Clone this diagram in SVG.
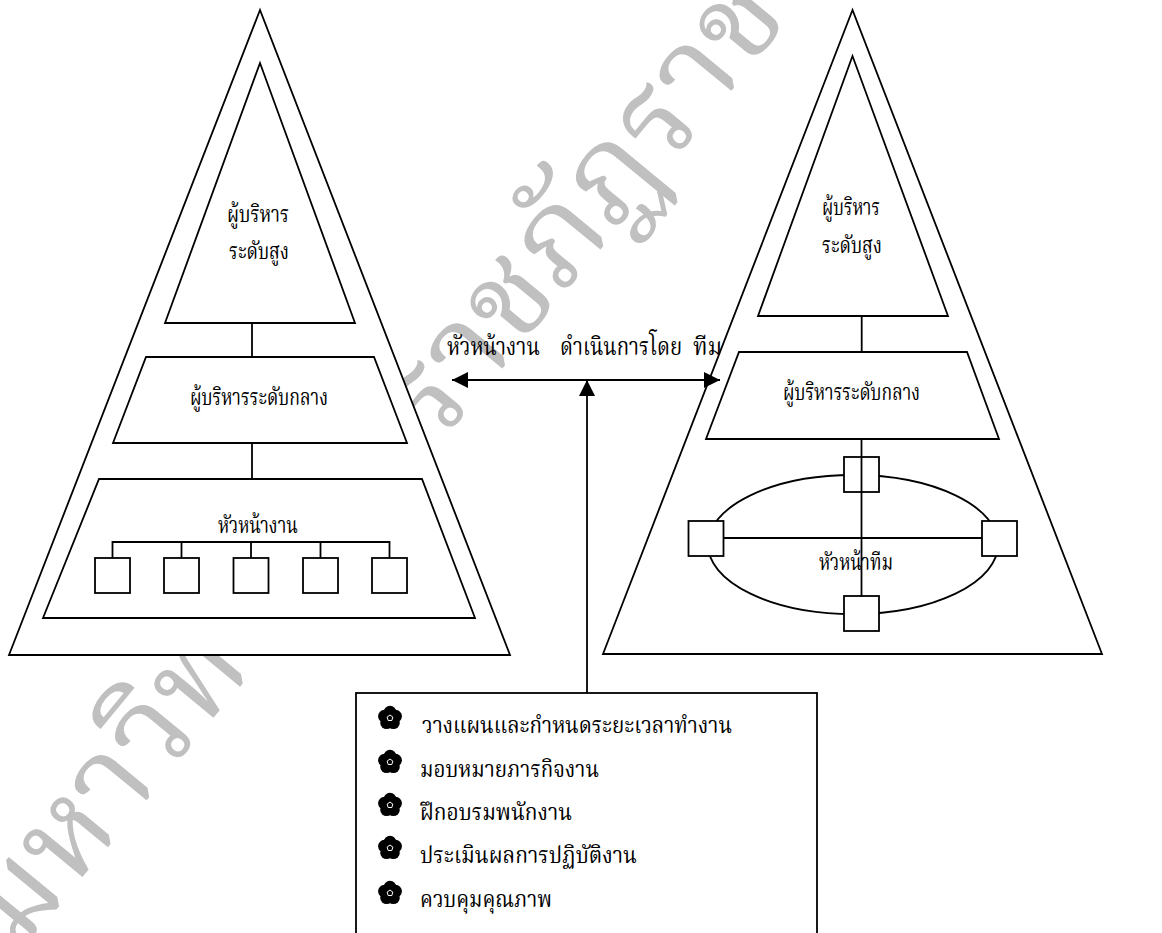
<svg xmlns="http://www.w3.org/2000/svg" width="1162" height="933" viewBox="0 0 1162 933">
<style>
.s{fill:#fff;stroke:#000;stroke-width:1.8}
.l{fill:none;stroke:#000;stroke-width:1.8}
.t{font-family:"Liberation Serif","Noto Serif Thai","Noto Sans Thai",serif;font-size:23px;fill:#000}
.f{font-size:25px}
.wm{font-family:"Liberation Serif","Noto Serif Thai","Noto Sans Thai",serif;font-size:126px;fill:#c0c0c0}
</style>
<defs>
<marker id="ah" viewBox="0 0 16 16" refX="16" refY="8" markerWidth="16" markerHeight="16" markerUnits="userSpaceOnUse" orient="auto">
<path d="M0,0 L16,8 L0,16 Z" fill="#000"/>
</marker>
<g id="flower">
<circle cx="0" cy="-5.8" r="6.4"/>
<circle cx="5.5" cy="-1.8" r="6.4"/>
<circle cx="3.4" cy="4.7" r="6.4"/>
<circle cx="-3.4" cy="4.7" r="6.4"/>
<circle cx="-5.5" cy="-1.8" r="6.4"/>
<circle r="7"/>
<path d="M0,-3 L2.9,-0.9 L1.8,2.5 L-1.8,2.5 L-2.9,-0.9 Z" fill="none" stroke="#fff" stroke-width="1"/>
</g>
</defs>
<rect width="1162" height="933" fill="#fff"/>
<text class="wm" transform="translate(18,955) rotate(-50.5)">มหาวิทยาลัยราชภัฏราช</text>

<g id="left-pyramid">
<polygon class="s" points="260,10 9,655 510,655"/>
<g id="left-top"><polygon class="s" points="260,63 165,323 355,323"/>
<text class="t" x="227" y="222" textLength="62" lengthAdjust="spacingAndGlyphs">ผู้บริหาร</text>
<text class="t" x="229" y="259" textLength="60" lengthAdjust="spacingAndGlyphs">ระดับสูง</text></g>
<g id="left-middle"><polygon class="s" points="146,357 374,357 407,443 113,443"/>
<text class="t" x="190" y="405" textLength="138" lengthAdjust="spacingAndGlyphs">ผู้บริหารระดับกลาง</text></g>
<g id="left-bottom"><polygon class="s" points="99,479 422,479 475,618 43,618"/>
<text class="t" x="218" y="533" textLength="80" lengthAdjust="spacingAndGlyphs">หัวหน้างาน</text>
<path class="l" d="M112.5,558 V542 H389.5 V558 M181.5,542 V558 M251,542 V558 M320.5,542 V558"/>
<rect class="s" x="95" y="558" width="35" height="35"/>
<rect class="s" x="164" y="558" width="35" height="35"/>
<rect class="s" x="233.5" y="558" width="35" height="35"/>
<rect class="s" x="303" y="558" width="35" height="35"/>
<rect class="s" x="372" y="558" width="35" height="35"/></g>
<path class="l" d="M252,323 V357 M252,443 V479"/>
</g>

<g id="right-pyramid">
<polygon class="s" points="852.5,10 603,654 1102,654"/>
<g id="right-top"><polygon class="s" points="852.5,56 758,316 948,316"/>
<text class="t" x="822" y="215" textLength="58" lengthAdjust="spacingAndGlyphs">ผู้บริหาร</text>
<text class="t" x="822" y="253" textLength="60" lengthAdjust="spacingAndGlyphs">ระดับสูง</text></g>
<g id="right-middle"><polygon class="s" points="739,352 967,352 999,439 706,439"/>
<text class="t" x="783" y="400" textLength="137" lengthAdjust="spacingAndGlyphs">ผู้บริหารระดับกลาง</text></g>
<path class="l" d="M861.7,316 V352"/>
<g id="right-team">
<ellipse class="l" cx="853" cy="544.5" rx="145" ry="69.5"/>
<text class="t" x="819" y="570" textLength="74" lengthAdjust="spacingAndGlyphs">หัวหน้าทีม</text>
<path class="l" d="M706,538 H1000"/>
<rect class="s" x="844" y="457" width="35" height="35"/>
<rect class="s" x="688.5" y="521" width="35" height="35"/>
<rect class="s" x="982" y="521" width="35" height="35"/>
<rect class="s" x="844" y="596" width="35" height="35"/>
<path class="l" d="M861.5,439 V597"/></g>
</g>

<g id="connectors">
<line class="l" x1="587" y1="380" x2="452" y2="380" marker-end="url(#ah)"/>
<line class="l" x1="587" y1="380" x2="720" y2="380" marker-end="url(#ah)"/>
<line class="l" x1="587" y1="693" x2="587" y2="380" marker-end="url(#ah)"/>
</g>
<text id="flow-label" class="t f" y="355"><tspan x="447" textLength="93" lengthAdjust="spacingAndGlyphs">หัวหน้างาน</tspan><tspan x="560" textLength="122" lengthAdjust="spacingAndGlyphs">ดำเนินการโดย</tspan><tspan x="693" textLength="29" lengthAdjust="spacingAndGlyphs">ทีม</tspan></text>

<g id="tasks">
<rect class="s" x="356" y="693" width="461" height="260"/>
<use href="#flower" x="390" y="718"/>
<use href="#flower" x="390" y="762"/>
<use href="#flower" x="390" y="805"/>
<use href="#flower" x="390" y="848"/>
<use href="#flower" x="390" y="893"/>
<text class="t" x="422" y="733" textLength="310" lengthAdjust="spacingAndGlyphs">วางแผนและกำหนดระยะเวลาทำงาน</text>
<text class="t" x="420" y="777" textLength="179" lengthAdjust="spacingAndGlyphs">มอบหมายภารกิจงาน</text>
<text class="t" x="420" y="820" textLength="152" lengthAdjust="spacingAndGlyphs">ฝึกอบรมพนักงาน</text>
<text class="t" x="420" y="863" textLength="217" lengthAdjust="spacingAndGlyphs">ประเมินผลการปฏิบัติงาน</text>
<text class="t" x="420" y="907" textLength="132" lengthAdjust="spacingAndGlyphs">ควบคุมคุณภาพ</text>
</g>
</svg>
